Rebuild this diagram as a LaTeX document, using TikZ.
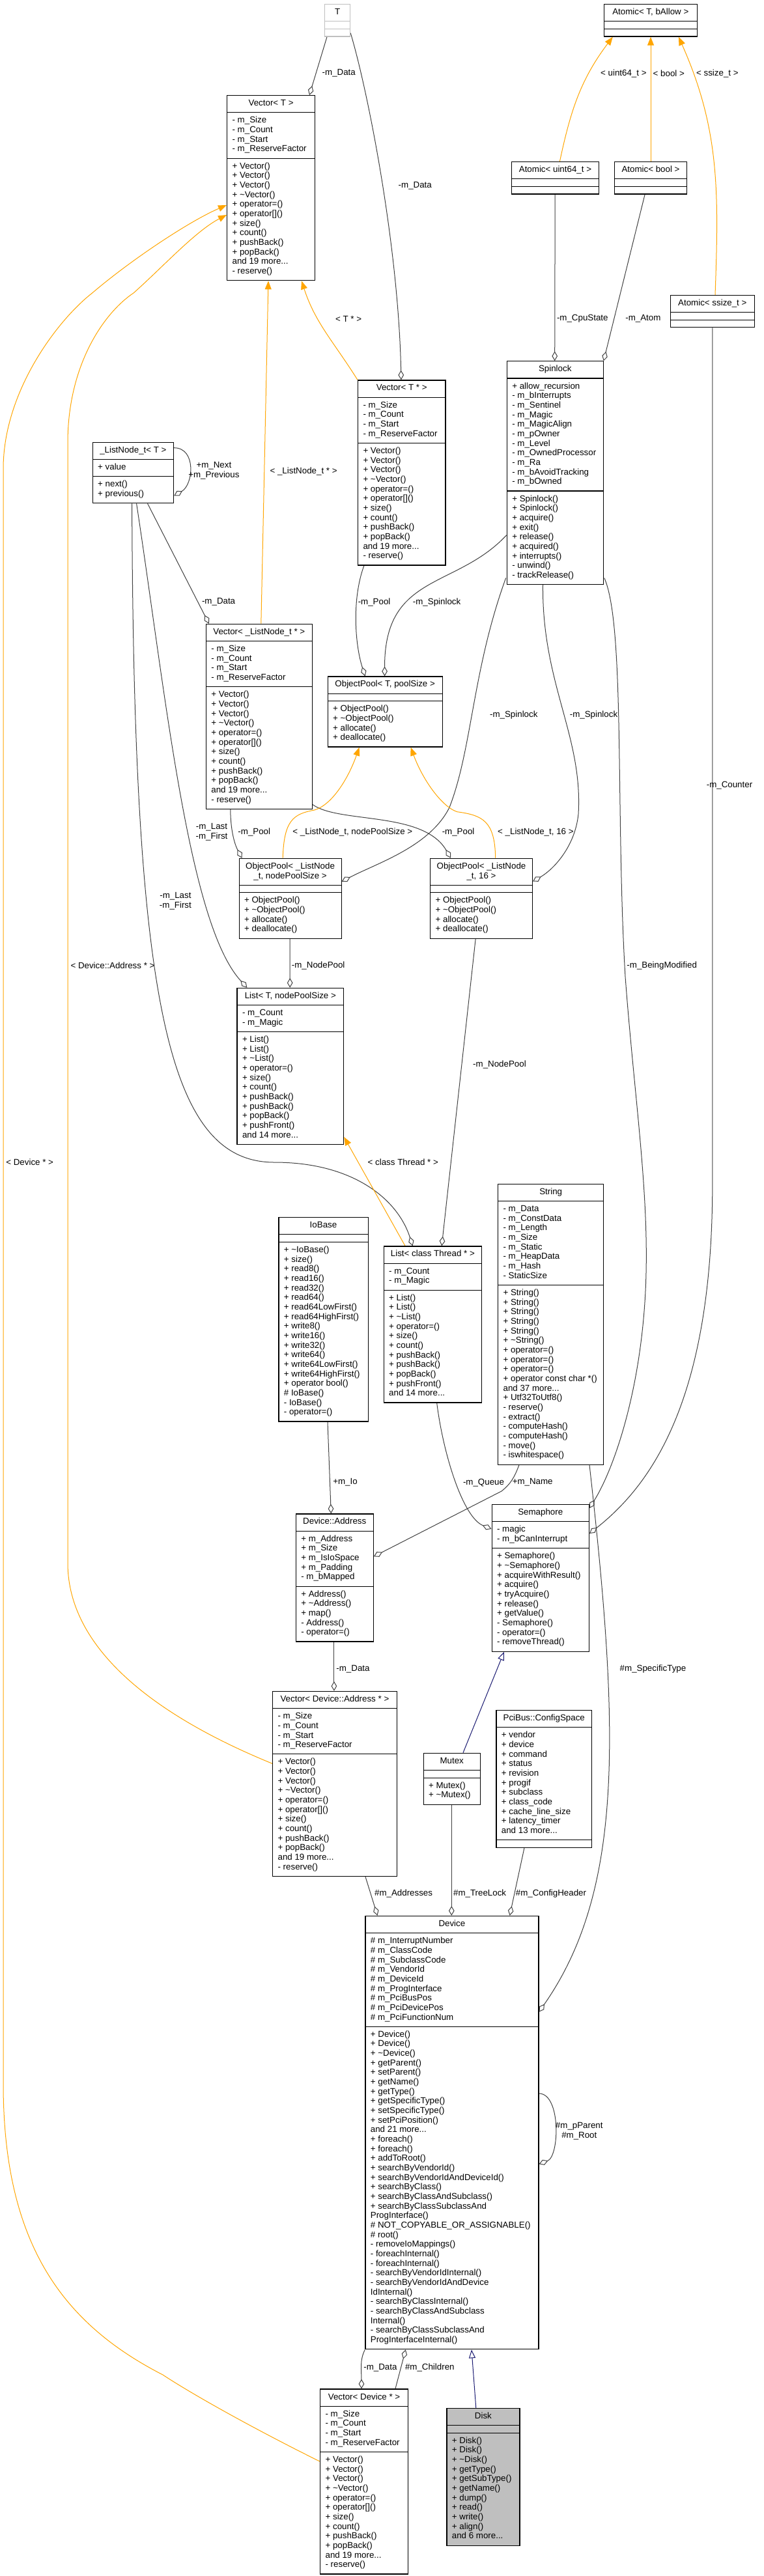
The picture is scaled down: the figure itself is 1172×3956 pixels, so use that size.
\documentclass[tikz,border=0pt]{standalone}
\usepackage{fontspec}
\setmainfont{Liberation Sans}
\usetikzlibrary{arrows.meta,shapes.multipart,calc}
\pgfdeclarelayer{nodelayer}
\pgfdeclarelayer{edgelayer}
\pgfsetlayers{edgelayer,nodelayer,main}
\definecolor{dxedge}{HTML}{404040}
\definecolor{dxorange}{HTML}{FFA500}
\definecolor{dxnavy}{HTML}{191970}
\definecolor{dxgray}{HTML}{BFBFBF}
\newcommand\dxfont{\fontsize{10}{11}\selectfont}
\newcommand\dxclass[4]{\makebox[#1]{\begin{tabular}[t]{@{}c@{}}#2\end{tabular}}%
  \nodepart{two}\makebox[#1][l]{\begin{tabular}[t]{@{}l@{}}#3\end{tabular}}%
  \nodepart{three}\makebox[#1][l]{\begin{tabular}[t]{@{}l@{}}#4\end{tabular}}}
\newcommand\vecattrs{- m\_Size\\- m\_Count\\- m\_Start\\- m\_ReserveFactor}
\newcommand\vecops{+ Vector()\\+ Vector()\\+ Vector()\\+ \textasciitilde Vector()\\+ operator=()\\+ operator[]()\\+ size()\\+ count()\\+ pushBack()\\+ popBack()\\and 19 more...\\- reserve()}
\newcommand\listops{+ List()\\+ List()\\+ \textasciitilde List()\\+ operator=()\\+ size()\\+ count()\\+ pushBack()\\+ pushBack()\\+ popBack()\\+ pushFront()\\and 14 more...}
\newcommand\poolops{+ ObjectPool()\\+ \textasciitilde ObjectPool()\\+ allocate()\\+ deallocate()}
\tikzstyle{class box}=[rectangle split, rectangle split parts=3, draw=black, line width=0.9pt, fill=white, anchor=north west, inner xsep=6pt, inner ysep=3.9pt, font=\dxfont]
\tikzstyle{undoc box}=[class box, draw=dxgray]
\tikzstyle{focus box}=[class box, fill=dxgray]
\tikzstyle{edge label}=[font=\dxfont, inner sep=0pt, align=center]
\tikzstyle{member edge}=[draw=dxedge, line width=0.75pt, -{Diamond[fill=white, length=11pt, width=6.5pt]}]
\tikzstyle{template edge}=[draw=dxorange, line width=0.75pt, -{Triangle[fill=dxorange, length=9.75pt, width=7.5pt]}]
\tikzstyle{inherit edge}=[draw=dxnavy, line width=0.75pt, -{Triangle[fill=white, length=9.75pt, width=7.5pt]}]

\begin{document}
\begin{tikzpicture}[x=0.75pt, y=-0.75pt]
	\useasboundingbox (0,0) rectangle (1172,3956);
	\begin{pgfonlayer}{nodelayer}
		% classes, placed at their top left corners
		\node [style=undoc box] (tmplT) at (498,6) {\dxclass{17.25pt}{T}{}{}};
		\node [style=class box] (vecT) at (348,146) {\dxclass{89.25pt}{Vector< T >}{\vecattrs}{\vecops}};
		\node [style=class box] (atomT) at (926.8,6) {\dxclass{95.1pt}{Atomic< T, bAllow >}{}{}};
		\node [style=class box] (atomU) at (785.2,248) {\dxclass{88pt}{Atomic< uint64\_t >}{}{}};
		\node [style=class box] (atomB) at (943.1,248) {\dxclass{71pt}{Atomic< bool >}{}{}};
		\node [style=class box] (atomS) at (1028.5,452.8) {\dxclass{85.1pt}{Atomic< ssize\_t >}{}{}};
		\node [style=class box] (spin) at (777.7,554.2) {\dxclass{98.9pt}{Spinlock}{+ allow\_recursion\\- m\_bInterrupts\\- m\_Sentinel\\- m\_Magic\\- m\_MagicAlign\\- m\_pOwner\\- m\_Level\\- m\_OwnedProcessor\\- m\_Ra\\- m\_bAvoidTracking\\- m\_bOwned}{+ Spinlock()\\+ Spinlock()\\+ acquire()\\+ exit()\\+ release()\\+ acquired()\\+ interrupts()\\- unwind()\\- trackRelease()}};
		\node [style=class box] (vecTp) at (548.9,583.3) {\dxclass{88.9pt}{Vector< T * >}{\vecattrs}{\vecops}};
		\node [style=class box] (lnode) at (141.6,678.7) {\dxclass{81.3pt}{\_ListNode\_t< T >}{+ value}{+ next()\\+ previous()}};
		\node [style=class box] (vecLN) at (315.8,957.7) {\dxclass{110.1pt}{Vector< \_ListNode\_t * >}{\vecattrs}{\vecops}};
		\node [style=class box] (objT) at (502.6,1038.3) {\dxclass{120pt}{ObjectPool< T, poolSize >}{}{\poolops}};
		\node [style=class box] (objN) at (366.5,1317.7) {\dxclass{105.75pt}{ObjectPool< \_ListNode\\\_t, nodePoolSize >}{}{\poolops}};
		\node [style=class box] (obj16) at (660,1317.7) {\dxclass{105.6pt}{ObjectPool< \_ListNode\\\_t, 16 >}{}{\poolops}};
		\node [style=class box] (listT) at (363.4,1516.7) {\dxclass{110.7pt}{List< T, nodePoolSize >}{- m\_Count\\- m\_Magic}{\listops}};
		\node [style=class box] (str) at (764,1817.7) {\dxclass{109.65pt}{String}{- m\_Data\\- m\_ConstData\\- m\_Length\\- m\_Size\\- m\_Static\\- m\_HeapData\\- m\_Hash\\- StaticSize}{+ String()\\+ String()\\+ String()\\+ String()\\+ String()\\+ \textasciitilde String()\\+ operator=()\\+ operator=()\\+ operator=()\\+ operator const char *()\\and 37 more...\\+ Utf32ToUtf8()\\- reserve()\\- extract()\\- computeHash()\\- computeHash()\\- move()\\- iswhitespace()}};
		\node [style=class box] (io) at (427.3,1869) {\dxclass{90.9pt}{IoBase}{}{+ \textasciitilde IoBase()\\+ size()\\+ read8()\\+ read16()\\+ read32()\\+ read64()\\+ read64LowFirst()\\+ read64HighFirst()\\+ write8()\\+ write16()\\+ write32()\\+ write64()\\+ write64LowFirst()\\+ write64HighFirst()\\+ operator bool()\\\# IoBase()\\- IoBase()\\- operator=()}};
		\node [style=class box] (listTh) at (588.6,1913.3) {\dxclass{100.8pt}{List< class Thread * >}{- m\_Count\\- m\_Magic}{\listops}};
		\node [style=class box] (addr) at (453.7,2324.3) {\dxclass{77.2pt}{Device::Address}{+ m\_Address\\+ m\_Size\\+ m\_IsIoSpace\\+ m\_Padding\\- m\_bMapped}{+ Address()\\+ \textasciitilde Address()\\+ map()\\- Address()\\- operator=()}};
		\node [style=class box] (sem) at (754.5,2310) {\dxclass{100pt}{Semaphore}{- magic\\- m\_bCanInterrupt}{+ Semaphore()\\+ \textasciitilde Semaphore()\\+ acquireWithResult()\\+ acquire()\\+ tryAcquire()\\+ release()\\+ getValue()\\- Semaphore()\\- operator=()\\- removeThread()}};
		\node [style=class box] (vecAddr) at (418,2596.7) {\dxclass{131pt}{Vector< Device::Address * >}{\vecattrs}{\vecops}};
		\node [style=class box] (mutex) at (649.5,2691.7) {\dxclass{53.4pt}{Mutex}{}{+ Mutex()\\+ \textasciitilde Mutex()}};
		\node [style=class box] (pci) at (761.3,2625.7) {\dxclass{98pt}{PciBus::ConfigSpace}{+ vendor\\+ device\\+ command\\+ status\\+ revision\\+ progif\\+ subclass\\+ class\_code\\+ cache\_line\_size\\+ latency\_timer\\and 13 more...}{}};
		\node [style=class box] (dev) at (560.3,2941.7) {\dxclass{187.5pt}{Device}{\# m\_InterruptNumber\\\# m\_ClassCode\\\# m\_SubclassCode\\\# m\_VendorId\\\# m\_DeviceId\\\# m\_ProgInterface\\\# m\_PciBusPos\\\# m\_PciDevicePos\\\# m\_PciFunctionNum}{+ Device()\\+ Device()\\+ \textasciitilde Device()\\+ getParent()\\+ setParent()\\+ getName()\\+ getType()\\+ getSpecificType()\\+ setSpecificType()\\+ setPciPosition()\\and 21 more...\\+ foreach()\\+ foreach()\\+ addToRoot()\\+ searchByVendorId()\\+ searchByVendorIdAndDeviceId()\\+ searchByClass()\\+ searchByClassAndSubclass()\\+ searchByClassSubclassAnd\\ProgInterface()\\\# NOT\_COPYABLE\_OR\_ASSIGNABLE()\\\# root()\\- removeIoMappings()\\- foreachInternal()\\- foreachInternal()\\- searchByVendorIdInternal()\\- searchByVendorIdAndDevice\\IdInternal()\\- searchByClassInternal()\\- searchByClassAndSubclass\\Internal()\\- searchByClassSubclassAnd\\ProgInterfaceInternal()}};
		\node [style=class box] (vecDev) at (491,3668.3) {\dxclass{89.2pt}{Vector< Device * >}{\vecattrs}{\vecops}};
		\node [style=focus box] (disk) at (685.3,3697.7) {\dxclass{72pt}{Disk}{}{+ Disk()\\+ Disk()\\+ \textasciitilde Disk()\\+ getType()\\+ getSubType()\\+ getName()\\+ dump()\\+ read()\\+ write()\\+ align()\\and 6 more...}};
		% edge labels
		\node [style=edge label] (lDataT) at (520.3,112.7) {-m\_Data};
		\node [style=edge label] (lU64) at (957.4,113) {< uint64\_t >};
		\node [style=edge label] (lBool) at (1026.8,113) {< bool >};
		\node [style=edge label] (lSsize) at (1101.4,113) {< ssize\_t >};
		\node [style=edge label] (lDataTp) at (637.3,285.7) {-m\_Data};
		\node [style=edge label] (lTp) at (535.1,489.6) {< T * >};
		\node [style=edge label] (lCpu) at (894.3,489.6) {-m\_CpuState};
		\node [style=edge label] (lAtom) at (987.4,489.6) {-m\_Atom};
		\node [style=edge label] (lNext) at (328.4,723) {+m\_Next\\+m\_Previous};
		\node [style=edge label] (lLNp) at (466.1,723.6) {< \_ListNode\_t * >};
		\node [style=edge label] (lDataLN) at (335.6,924.6) {-m\_Data};
		\node [style=edge label] (lPoolT) at (574.6,924.6) {-m\_Pool};
		\node [style=edge label] (lSpinT) at (670.6,924.6) {-m\_Spinlock};
		\node [style=edge label] (lSpinN) at (788.8,1097.7) {-m\_Spinlock};
		\node [style=edge label] (lSpin16) at (911.5,1097.7) {-m\_Spinlock};
		\node [style=edge label] (lCounter) at (1120,1206) {-m\_Counter};
		\node [style=edge label] (lLast1) at (325,1277.7) {-m\_Last\\-m\_First};
		\node [style=edge label] (lPoolN) at (390.3,1278.3) {-m\_Pool};
		\node [style=edge label] (lTmplN) at (541.3,1278.3) {< \_ListNode\_t, nodePoolSize >};
		\node [style=edge label] (lPool16) at (703.6,1278.3) {-m\_Pool};
		\node [style=edge label] (lTmpl16) at (822.4,1278.3) {< \_ListNode\_t, 16 >};
		\node [style=edge label] (lLast2) at (269.4,1384) {-m\_Last\\-m\_First};
		\node [style=edge label] (lNodePoolT) at (488.7,1483.3) {-m\_NodePool};
		\node [style=edge label] (lBeing) at (1016.2,1483.3) {-m\_BeingModified};
		\node [style=edge label] (lAddrTmpl) at (173,1483) {< Device::Address * >};
		\node [style=edge label] (lNodePoolTh) at (767,1635) {-m\_NodePool};
		\node [style=edge label] (lDevTmpl) at (45.7,1784.5) {< Device * >};
		\node [style=edge label] (lThread) at (618.8,1785) {< class Thread * >};
		\node [style=edge label] (lIo) at (530,2276.7) {+m\_Io};
		\node [style=edge label] (lQueue) at (742.5,2276.7) {-m\_Queue};
		\node [style=edge label] (lName) at (817.7,2276.7) {+m\_Name};
		\node [style=edge label] (lDataAddr) at (542,2563.3) {-m\_Data};
		\node [style=edge label] (lSpecific) at (1002.5,2563.3) {\#m\_SpecificType};
		\node [style=edge label] (lAddresses) at (619.6,2908.3) {\#m\_Addresses};
		\node [style=edge label] (lTree) at (736.6,2908.3) {\#m\_TreeLock};
		\node [style=edge label] (lConfig) at (846,2908.3) {\#m\_ConfigHeader};
		\node [style=edge label] (lParent) at (889.3,3272.5) {\#m\_pParent\\\#m\_Root};
		\node [style=edge label] (lDataDev) at (583.9,3635.7) {-m\_Data};
		\node [style=edge label] (lChildren) at (659.8,3635.7) {\#m\_Children};
	\end{pgfonlayer}
	\begin{pgfonlayer}{edgelayer}
		% members (diamond at the owner)
		\draw [style=member edge] ($(tmplT.south west)+(4,0)$) -- ($(vecT.north west)+(127,0)$);
		\draw [style=member edge] ($(tmplT.south east)+(0,-6)$) .. controls (565,140) and (612,380) .. ($(vecTp.north west)+(67,0)$);
		\draw [style=member edge] ($(atomU.south west)+(67,0)$) -- ($(spin.north west)+(74,0)$);
		\draw [style=member edge] ($(atomB.south west)+(47,0)$) -- (spin.north east);
		\draw [style=member edge] ($(lnode.north east)+(0,9)$) to [out=0, in=30, looseness=1.2] ($(lnode.south east)+(0,-12)$);
		\draw [style=member edge] ($(lnode.south west)+(85,0)$) -- ($(vecLN.north west)+(5,0)$);
		\draw [style=member edge] ($(lnode.south west)+(68,0)$) .. controls (254.7,1069) and (289.7,1420) .. ($(listT.north west)+(16,0)$);
		\draw [style=member edge] ($(lnode.south west)+(61,0)$) .. controls (205,1550) and (260,1785) .. (421.7,1785) .. controls (540,1785) and (610,1840) .. ($(listTh.north west)+(45,0)$);
		\draw [style=member edge] ($(vecTp.south west)+(10,0)$) .. controls (540,920) and (545,990) .. ($(objT.north west)+(58,0)$);
		\draw [style=member edge] ($(spin.north west)+(0,267.6)$) .. controls (700,905) and (590,880) .. ($(objT.north west)+(88,0)$);
		\draw [style=member edge] ($(vecLN.south west)+(38,0)$) .. controls (354,1280) and (362,1300) .. ($(objN.north west)+(5,0)$);
		\draw [style=member edge] ($(vecLN.south east)+(0,-7.6)$) .. controls (520,1265) and (650,1245) .. ($(obj16.north west)+(32,0)$);
		\draw [style=member edge] ($(spin.south west)+(-1,-10.7)$) .. controls (725,1030) and (725,1150) .. (690,1240) .. controls (660,1300) and (580,1325) .. ($(objN.north east)+(0,36)$);
		\draw [style=member edge] ($(spin.south west)+(55.8,0)$) .. controls (832,1050) and (895,1130) .. (888,1250) .. controls (883,1300) and (850,1335) .. ($(obj16.north east)+(0,36)$);
		\draw [style=member edge] ($(spin.south east)+(1,-10.7)$) .. controls (960,960) and (945,1250) .. (960,1500) .. controls (975,1700) and (1000,1850) .. (990,2000) .. controls (980,2150) and (940,2260) .. ($(sem.north east)+(0,6)$);
		\draw [style=member edge] (atomS.south) -- ++(0,1320) .. controls (1093,2150) and (1000,2280) .. ($(sem.north east)+(0,45)$);
		\draw [style=member edge] ($(objN.south west)+(78.7,0)$) -- ($(listT.north west)+(81.8,0)$);
		\draw [style=member edge] ($(obj16.south west)+(70.2,0)$) -- ($(listTh.north west)+(89.6,0)$);
		\draw [style=member edge] ($(listTh.south west)+(82.1,0)$) .. controls (680,2230) and (710,2330) .. ($(sem.north west)+(0,38)$);
		\draw [style=member edge] ($(str.south west)+(33,0)$) .. controls (790,2268) and (785,2278) .. (770,2290) -- ($(addr.north east)+(0,66)$);
		\draw [style=member edge] ($(str.south west)+(141,0)$) .. controls (950,2650) and (960,2900) .. ($(dev.north east)+(0,148)$);
		\draw [style=member edge] ($(io.south west)+(75.7,0)$) -- ($(addr.north west)+(54.6,0)$);
		\draw [style=member edge] ($(addr.south west)+(59.2,0)$) -- ($(vecAddr.north west)+(94.9,0)$);
		\draw [style=member edge] ($(vecAddr.south west)+(143,0)$) -- ($(dev.north west)+(19.2,0)$);
		\draw [style=member edge] ($(mutex.south west)+(43.8,0)$) -- ($(dev.north west)+(133,0)$);
		\draw [style=member edge] ($(pci.south west)+(43.7,0)$) -- ($(dev.north west)+(222.3,0)$);
		\draw [style=member edge] ($(dev.north east)+(0,273.3)$) to [out=0, in=20, looseness=0.8] ($(dev.north east)+(0,381.6)$);
		\draw [style=member edge] (dev.south west) .. controls (552,3625) and (555,3640) .. ($(vecDev.north west)+(64,0)$);
		\draw [style=member edge] ($(vecDev.north west)+(116,0)$) -- ($(dev.south west)+(62.5,0)$);
		% template instances
		\draw [style=template edge] (vecTp.north west) to [out=122, in=-72] ($(vecT.south west)+(115,0)$);
		\draw [style=template edge] ($(vecLN.north west)+(85,0)$) -- ($(vecT.south west)+(64,0)$);
		\draw [style=template edge] ($(objN.north west)+(67.7,0)$) .. controls (436,1260) and (450,1250) .. (482.7,1244) .. controls (510,1236) and (535,1195) .. ($(objT.south west)+(49,0)$);
		\draw [style=template edge] ($(obj16.north west)+(100.7,0)$) .. controls (760,1260) and (740,1252) .. (702,1246.7) .. controls (680,1240) and (650,1200) .. ($(objT.south west)+(128,0)$);
		\draw [style=template edge] ($(listTh.north west)+(33.4,0)$) -- ($(listT.south east)+(0,-12)$);
		\draw [style=template edge] ($(atomU.north west)+(74.2,0)$) to [out=78, in=-127] ($(atomT.south west)+(14,0)$);
		\draw [style=template edge] (atomB.north) -- (atomB.north |- atomT.south);
		\draw [style=template edge] ($(atomS.north west)+(69.5,0)$) to [out=88, in=-66] ($(atomT.south west)+(115.1,0)$);
		\draw [style=template edge] ($(vecDev.north west)+(0,111.7)$) .. controls (400,3735) and (300,3680) .. (250,3647) .. controls (100,3570) and (5,3450) .. (5,3200) -- (5,720) .. controls (5,600) and (90,490) .. (141.6,450) .. controls (200,400) and (290,340) .. ($(vecT.north west)+(0,169)$);
		\draw [style=template edge] ($(vecAddr.north west)+(0,111.6)$) .. controls (300,2660) and (104,2560) .. (104,2400) -- (104,680) .. controls (104,560) and (160,480) .. (205,450) .. controls (250,410) and (300,355) .. ($(vecT.north west)+(0,184)$);
		% inheritance
		\draw [style=inherit edge] ($(mutex.north west)+(61.5,0)$) -- ($(sem.south west)+(19.5,0)$);
		\draw [style=inherit edge] ($(disk.north west)+(45.5,0)$) -- ($(dev.south west)+(163.7,0)$);
	\end{pgfonlayer}
\end{tikzpicture}
\end{document}
